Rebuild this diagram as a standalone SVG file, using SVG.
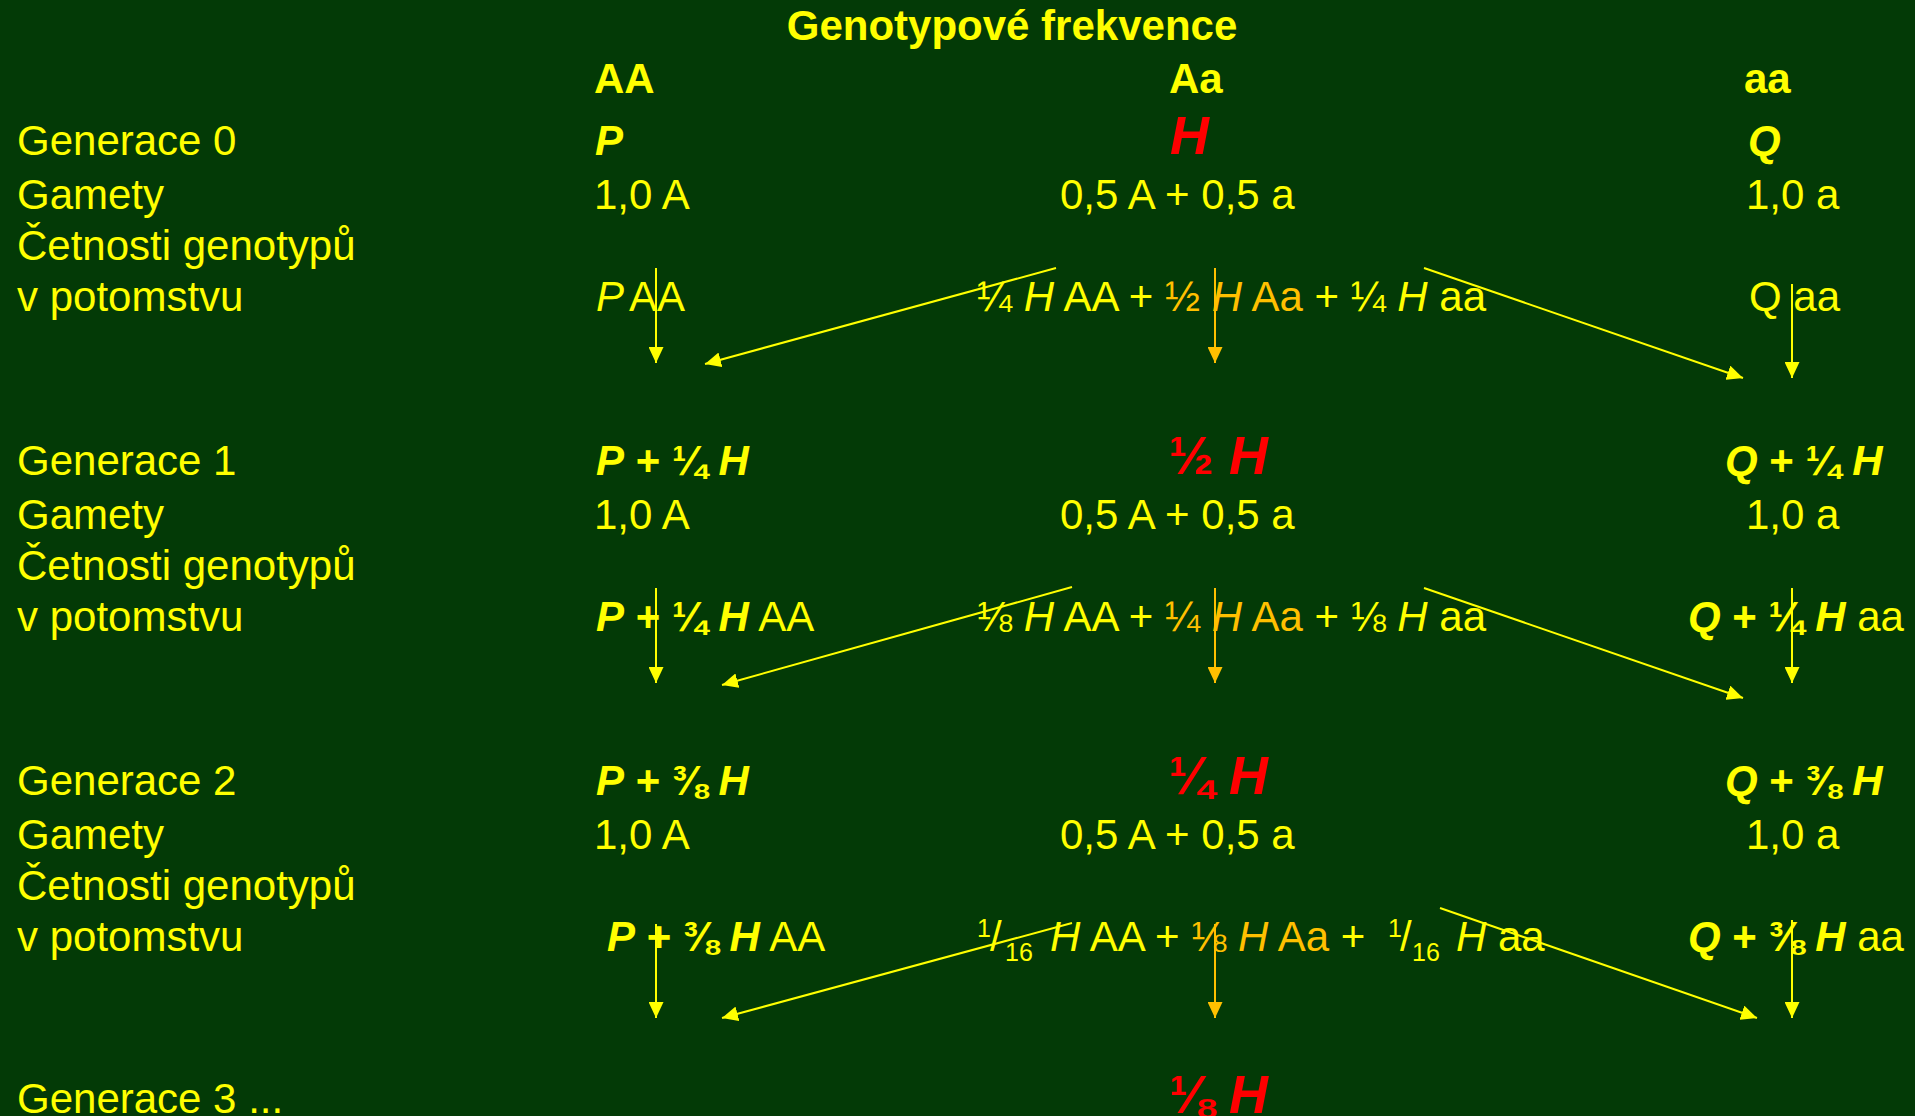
<svg xmlns="http://www.w3.org/2000/svg" width="1915" height="1116" viewBox="0 0 1915 1116">
<style>
text{font-family:"Liberation Sans",Arial,sans-serif;font-size:42px;fill:#FFFF00}
.b{font-weight:bold}
.i{font-style:italic}
.r{fill:#FF0000;font-weight:bold;font-size:54px}
.g{fill:#FFC000}
.sm{font-size:25px}
.c{stroke:#FFFF00;stroke-width:2;fill:none}
.cg{stroke:#FFC000;stroke-width:2;fill:none}
</style>
<defs>
<marker id="ay" markerUnits="userSpaceOnUse" markerWidth="16" markerHeight="15" refX="16" refY="7.5" orient="auto"><path d="M0,0 L16,7.5 L0,15 z" fill="#FFFF00"/></marker>
<marker id="ag" markerUnits="userSpaceOnUse" markerWidth="16" markerHeight="15" refX="16" refY="7.5" orient="auto"><path d="M0,0 L16,7.5 L0,15 z" fill="#FFC000"/></marker>
</defs>
<rect width="1915" height="1116" fill="#033A06"/>

<g id="header">
<text class="b" x="1012" y="40" text-anchor="middle">Genotypové frekvence</text>
<text class="b" x="594" y="93">AA</text>
<text class="b" x="1169" y="93">Aa</text>
<text class="b" x="1744" y="93">aa</text>
</g>

<g id="labels">
<text x="17" y="155">Generace 0</text>
<text x="17" y="209">Gamety</text>
<text x="17" y="260">Četnosti genotypů</text>
<text x="17" y="311">v potomstvu</text>
<text x="17" y="475">Generace 1</text>
<text x="17" y="529">Gamety</text>
<text x="17" y="580">Četnosti genotypů</text>
<text x="17" y="631">v potomstvu</text>
<text x="17" y="795">Generace 2</text>
<text x="17" y="849">Gamety</text>
<text x="17" y="900">Četnosti genotypů</text>
<text x="17" y="951">v potomstvu</text>
<text x="17" y="1113">Generace 3 ...</text>
</g>

<g id="gen0">
<text class="b i" x="595" y="155">P</text>
<text class="r i" x="1170" y="154">H</text>
<text class="b i" x="1748" y="155">Q</text>
<text x="594" y="209">1,0 A</text>
<text x="1060" y="209">0,5 A + 0,5 a</text>
<text x="1746" y="209">1,0 a</text>
<text x="596" y="311"><tspan class="i">P</tspan><tspan x="629">AA</tspan></text>
<text x="977" y="311">¼ <tspan class="i">H</tspan> AA + <tspan class="g">½ <tspan class="i">H</tspan> Aa</tspan> + ¼ <tspan class="i">H</tspan> aa</text>
<text x="1749" y="311">Q aa</text>
</g>

<g id="gen1">
<text class="b" x="596" y="475"><tspan class="i">P</tspan> + ¼ <tspan class="i">H</tspan></text>
<text class="r" x="1169" y="474">½ <tspan class="i">H</tspan></text>
<text class="b" x="1725" y="475"><tspan class="i">Q</tspan> + ¼ <tspan class="i">H</tspan></text>
<text x="594" y="529">1,0 A</text>
<text x="1060" y="529">0,5 A + 0,5 a</text>
<text x="1746" y="529">1,0 a</text>
<text x="596" y="631"><tspan class="b i">P</tspan><tspan class="b"> + ¼ </tspan><tspan class="b i">H</tspan> AA</text>
<text x="977" y="631">⅛ <tspan class="i">H</tspan> AA + <tspan class="g">¼ <tspan class="i">H</tspan> Aa</tspan> + ⅛ <tspan class="i">H</tspan> aa</text>
<text x="1688" y="631"><tspan class="b i">Q</tspan><tspan class="b"> + ¼ </tspan><tspan class="b i">H</tspan> aa</text>
</g>

<g id="gen2">
<text class="b" x="596" y="795"><tspan class="i">P</tspan> + ⅜ <tspan class="i">H</tspan></text>
<text class="r" x="1169" y="794">¼ <tspan class="i">H</tspan></text>
<text class="b" x="1725" y="795"><tspan class="i">Q</tspan> + ⅜ <tspan class="i">H</tspan></text>
<text x="594" y="849">1,0 A</text>
<text x="1060" y="849">0,5 A + 0,5 a</text>
<text x="1746" y="849">1,0 a</text>
<text x="607" y="951"><tspan class="b i">P</tspan><tspan class="b"> + ⅜ </tspan><tspan class="b i">H</tspan> AA</text>
<text class="sm" x="977" y="937">1</text>
<text x="990" y="951">/</text>
<text class="sm" x="1005" y="961">16</text>
<text x="1050" y="951"><tspan class="i">H</tspan> AA + <tspan class="g">⅛ <tspan class="i">H</tspan> Aa</tspan> +</text>
<text class="sm" x="1388" y="937">1</text>
<text x="1400" y="951">/</text>
<text class="sm" x="1412" y="961">16</text>
<text x="1456" y="951"><tspan class="i">H</tspan> aa</text>
<text x="1688" y="951"><tspan class="b i">Q</tspan><tspan class="b"> + ⅜ </tspan><tspan class="b i">H</tspan> aa</text>
</g>

<g id="gen3">
<text class="r" x="1169" y="1113">⅛ <tspan class="i">H</tspan></text>
</g>

<g id="connectors">
<line class="c" x1="656" y1="268" x2="656" y2="363" marker-end="url(#ay)"/>
<line class="c" x1="1056" y1="268" x2="705" y2="364" marker-end="url(#ay)"/>
<line class="cg" x1="1215" y1="268" x2="1215" y2="363" marker-end="url(#ag)"/>
<line class="c" x1="1424" y1="268" x2="1743" y2="378" marker-end="url(#ay)"/>
<line class="c" x1="1792" y1="284" x2="1792" y2="378" marker-end="url(#ay)"/>

<line class="c" x1="656" y1="588" x2="656" y2="683" marker-end="url(#ay)"/>
<line class="c" x1="1072" y1="587" x2="722" y2="685" marker-end="url(#ay)"/>
<line class="cg" x1="1215" y1="588" x2="1215" y2="683" marker-end="url(#ag)"/>
<line class="c" x1="1424" y1="588" x2="1743" y2="698" marker-end="url(#ay)"/>
<line class="c" x1="1792" y1="588" x2="1792" y2="683" marker-end="url(#ay)"/>

<line class="c" x1="656" y1="924" x2="656" y2="1018" marker-end="url(#ay)"/>
<line class="c" x1="1072" y1="923" x2="722" y2="1018" marker-end="url(#ay)"/>
<line class="cg" x1="1215" y1="924" x2="1215" y2="1018" marker-end="url(#ag)"/>
<line class="c" x1="1440" y1="908" x2="1757" y2="1018" marker-end="url(#ay)"/>
<line class="c" x1="1792" y1="920" x2="1792" y2="1018" marker-end="url(#ay)"/>
</g>
</svg>
